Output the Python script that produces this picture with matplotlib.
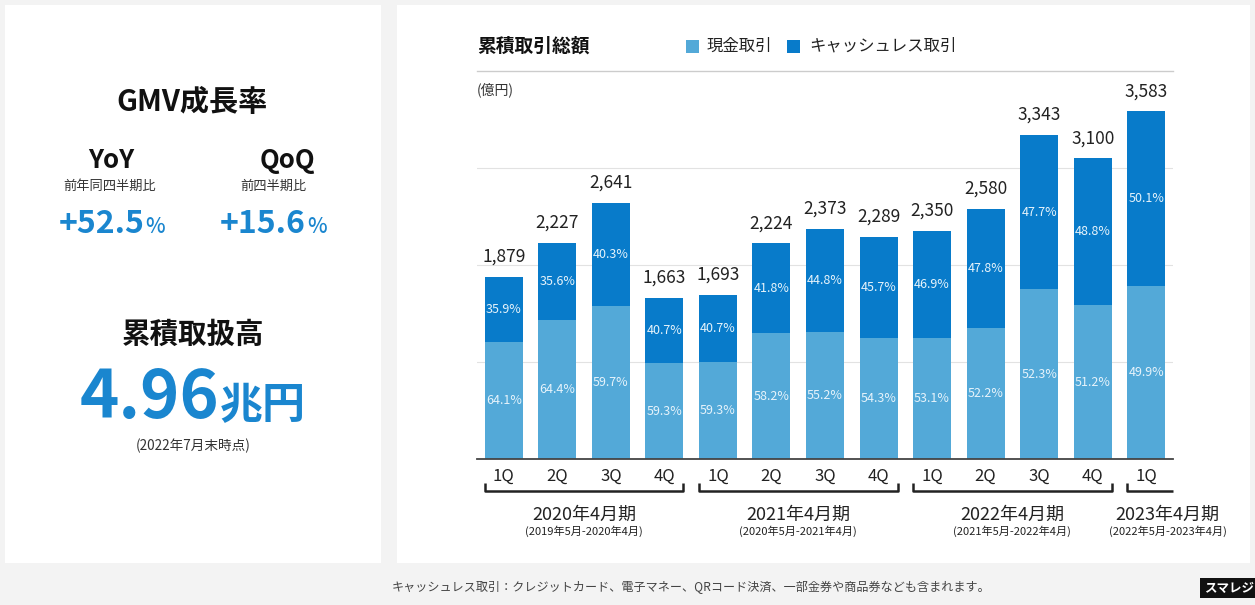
import matplotlib
matplotlib.use("Agg")
import matplotlib.pyplot as plt
import matplotlib.transforms as mtransforms
from matplotlib.patches import Rectangle

plt.rcParams['font.family'] = ['Noto Sans CJK JP', 'DejaVu Sans']

# ---- data ----
quarters = ['1Q', '2Q', '3Q', '4Q', '1Q', '2Q', '3Q', '4Q', '1Q', '2Q', '3Q', '4Q', '1Q']
totals = [1879, 2227, 2641, 1663, 1693, 2224, 2373, 2289, 2350, 2580, 3343, 3100, 3583]
cash_pct = [64.1, 64.4, 59.7, 59.3, 59.3, 58.2, 55.2, 54.3, 53.1, 52.2, 52.3, 51.2, 49.9]
cashless_pct = [35.9, 35.6, 40.3, 40.7, 40.7, 41.8, 44.8, 45.7, 46.9, 47.8, 47.7, 48.8, 50.1]
fiscal_years = ['2020年4月期', '2021年4月期', '2022年4月期', '2023年4月期']
fiscal_ranges = ['(2019年5月-2020年4月)', '(2020年5月-2021年4月)',
                 '(2021年5月-2022年4月)', '(2022年5月-2023年4月)']
fiscal_groups = [(0, 3), (4, 7), (8, 11), (12, 12)]
legend_labels = ['現金取引', 'キャッシュレス取引']

C_CASH = '#53a9d8'
C_LESS = '#087bca'
C_BLUE_TXT = '#1a86cf'

W, H = 1255, 605
fig = plt.figure(figsize=(W / 100, H / 100), dpi=100)
fig.patch.set_facecolor('#f3f3f3')

def fx(px):
    return px / W

def fy(py):
    return 1 - py / H

# white panels
fig.patches.append(Rectangle((fx(5), fy(563)), fx(381) - fx(5), fy(5) - fy(563),
                             transform=fig.transFigure, facecolor='white', edgecolor='none', zorder=-5))
fig.patches.append(Rectangle((fx(397), fy(563)), fx(1250) - fx(397), fy(5) - fy(563),
                             transform=fig.transFigure, facecolor='white', edgecolor='none', zorder=-5))

# ---- left panel ----
fig.text(fx(192), fy(102), 'GMV成長率', ha='center', va='center', fontsize=21, fontweight='bold', color='#111')
fig.text(fx(111), fy(160), 'YoY', ha='center', va='center', fontsize=18.5, fontweight='bold', color='#111')
fig.text(fx(287), fy(160), 'QoQ', ha='center', va='center', fontsize=18.5, fontweight='bold', color='#111')
fig.text(fx(110), fy(186), '前年同四半期比', ha='center', va='center', fontsize=9.5, color='#333')
fig.text(fx(273), fy(186), '前四半期比', ha='center', va='center', fontsize=9.5, color='#333')

fig.canvas.draw()
renderer = fig.canvas.get_renderer()

def big_with_suffix(xc, yc, main, suffix, fs_main, fs_suf, w_suf='bold'):
    t1 = fig.text(0, 0, main, fontsize=fs_main, color=C_BLUE_TXT, fontweight='bold', va='baseline')
    t2 = fig.text(0, 0, suffix, fontsize=fs_suf, color=C_BLUE_TXT, fontweight=w_suf, va='baseline')
    w1 = t1.get_window_extent(renderer).width
    w2 = t2.get_window_extent(renderer).width
    x0 = xc - (w1 + w2) / 2
    t1.set_position((fx(x0), fy(yc)))
    t2.set_position((fx(x0 + w1 + 1), fy(yc)))

big_with_suffix(111, 233, '+52.5', '%', 23, 15, 'medium')
big_with_suffix(273, 233, '+15.6', '%', 23, 15, 'medium')

fig.text(fx(193), fy(335), '累積取扱高', ha='center', va='center', fontsize=20.5, fontweight='bold', color='#111')
big_with_suffix(192, 418, '4.96', '兆円', 48, 31)
fig.text(fx(193), fy(446), '(2022年7月末時点)', ha='center', va='center', fontsize=9.8, color='#333')

# ---- chart ----
ax = fig.add_axes([fx(477), fy(459), fx(1173) - fx(477), (459 - 71) / H])
ax.set_zorder(5)
ax.set_facecolor('none')
x = list(range(len(totals)))
cash_vals = [t * p / 100 for t, p in zip(totals, cash_pct)]
less_vals = [t - c for t, c in zip(totals, cash_vals)]
bw = 0.71
ax.bar(x, cash_vals, width=bw, color=C_CASH, zorder=2)
ax.bar(x, less_vals, width=bw, bottom=cash_vals, color=C_LESS, zorder=2)
ax.set_xlim(-0.5, len(totals) - 0.5)
ax.set_ylim(0, 4000)
for g in [1000, 2000, 3000]:
    ax.axhline(g, color='#e2e2e2', lw=0.8, zorder=1)
ax.axhline(4000, color='#cccccc', lw=1.0, zorder=1, clip_on=False)
for s in ['top', 'left', 'right']:
    ax.spines[s].set_visible(False)
ax.spines['bottom'].set_color('#444')
ax.spines['bottom'].set_linewidth(1.3)
ax.set_xticks([])
ax.set_yticks([])

for i in x:
    ax.text(i, cash_vals[i] / 2, f'{cash_pct[i]:.1f}%', ha='center', va='center',
            fontsize=9, color='#e6f3fb', zorder=3)
    ax.text(i, cash_vals[i] + less_vals[i] / 2, f'{cashless_pct[i]:.1f}%', ha='center', va='center',
            fontsize=9, color='#e6f3fb', zorder=3)
    ax.annotate(f'{totals[i]:,}', (i, totals[i]), xytext=(0, 8), textcoords='offset points',
                ha='center', va='bottom', fontsize=12.5, color='#222')

trans = mtransforms.blended_transform_factory(ax.transData, fig.transFigure)
for i, q in enumerate(quarters):
    fig.text(0, 0, q, transform=trans, ha='center', va='center', fontsize=12, color='#222').set_position((i, fy(476)))

half = bw / 2
for k, (a, b) in enumerate(fiscal_groups):
    x0 = a - half
    if a == b:
        x1 = len(totals) - 0.5
        ax.plot([x0, x0, x1], [fy(483), fy(491), fy(491)], transform=trans, color='#222', lw=1.8,
                clip_on=False, solid_capstyle='butt')
        xc = 12.4
    else:
        x1 = b + half
        ax.plot([x0, x0, x1, x1], [fy(483), fy(491), fy(491), fy(483)], transform=trans, color='#222',
                lw=1.8, clip_on=False, solid_capstyle='butt')
        xc = (x0 + x1) / 2
    fig.text(0, 0, fiscal_years[k], transform=trans, ha='center', va='center', fontsize=13,
             color='#222').set_position((xc, fy(515)))
    fig.text(0, 0, fiscal_ranges[k], transform=trans, ha='center', va='center', fontsize=8,
             color='#222').set_position((xc, fy(531)))

# title, legend, unit
fig.text(fx(477), fy(46), '累積取引総額', ha='left', va='center', fontsize=13.5, fontweight='bold', color='#111')
fig.patches.append(Rectangle((fx(686), fy(53)), fx(13), 13 / H, transform=fig.transFigure,
                             facecolor=C_CASH, edgecolor='none'))
fig.text(fx(707), fy(46), legend_labels[0], ha='left', va='center', fontsize=11.8, color='#222')
fig.patches.append(Rectangle((fx(787), fy(53)), fx(13), 13 / H, transform=fig.transFigure,
                             facecolor=C_LESS, edgecolor='none'))
fig.text(fx(809), fy(46), legend_labels[1], ha='left', va='center', fontsize=11.8, color='#222')
fig.text(fx(477), fy(90), '(億円)', ha='left', va='center', fontsize=10, color='#333')

# footer
fig.text(fx(691), fy(587), 'キャッシュレス取引：クレジットカード、電子マネー、QRコード決済、一部金券や商品券なども含まれます。',
         ha='center', va='center', fontsize=8.7, color='#444')
fig.text(fx(1229), fy(588), 'スマレジ', ha='center', va='center', fontsize=9, fontweight='bold', color='white',
         bbox=dict(boxstyle='square,pad=0.3', facecolor='#111', edgecolor='none'))

fig.savefig('out.png', dpi=100, facecolor=fig.get_facecolor())
